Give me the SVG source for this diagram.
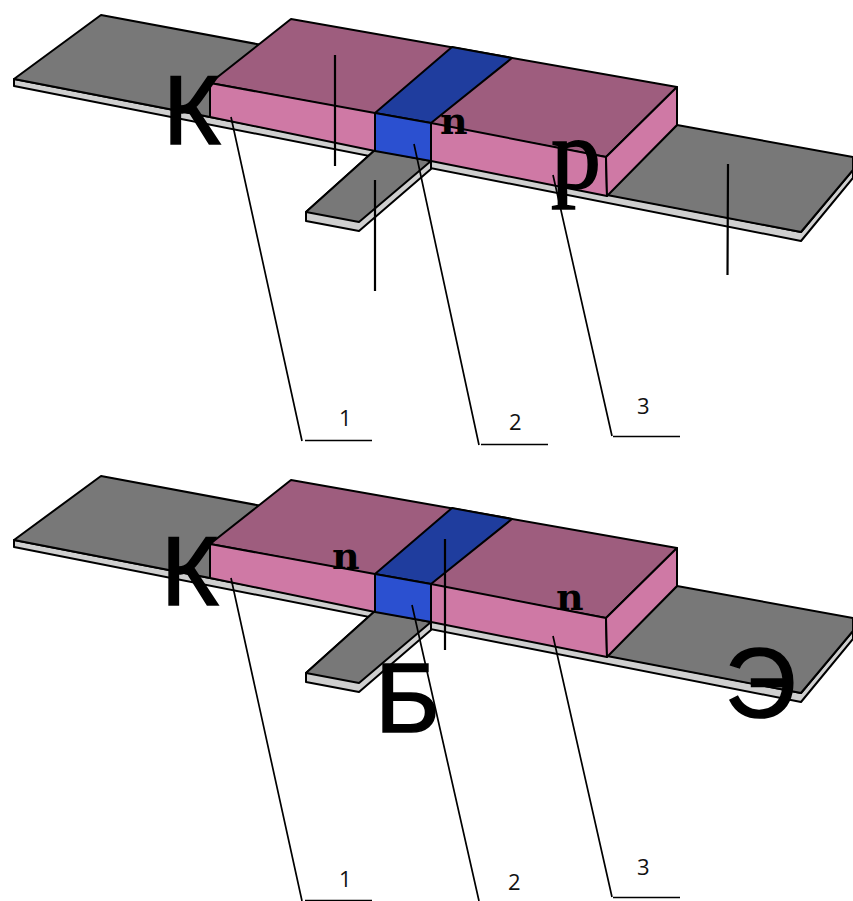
<svg xmlns="http://www.w3.org/2000/svg" width="853" height="901" viewBox="0 0 853 901">
<style>
.e{stroke:#000;stroke-width:2;stroke-linejoin:round}
.g{fill:#787878}.s{fill:#cfcfcf}.t{fill:#9e5d7e}.f{fill:#cf79a5}.bt{fill:#1f3d9e}.bf{fill:#2b50d0}
.l{stroke:#000;stroke-width:1.7;fill:none}
.v{stroke:#000;stroke-width:2.2;fill:none}
.big{font-family:"Liberation Sans",Arial,sans-serif;font-size:99px;fill:#000;stroke:#000;stroke-width:1.6}
.ser{font-family:"DejaVu Serif",serif;font-weight:bold;font-size:38px;fill:#000}
.pp{font-family:"Liberation Serif",serif;font-size:100px;fill:#000;stroke:#000;stroke-width:1.6}
.num{font-family:"Open Sans",sans-serif;font-size:22px;fill:#111}
</style>
<defs>
<g id="device">
<polygon class="s e" points="14,79 14,86 801,241 853,178 853,170 801,232"/>
<polygon class="g e" points="14,79 101,15 262,45 210,117"/>
<polygon class="g e" points="677,125 853,157 853,170 801,232 607,195"/>
<polygon class="s e" points="306,212 306,221 359,231 431,169 431,160 375,150"/>
<polygon class="g e" points="375,150 306,212 359,222 431,161"/>
<polygon class="t e" points="210,83 291,19 677,87 606,157"/>
<polygon class="bt e" points="375,113 452,47 512,58 431,123"/>
<polygon class="f e" points="210,83 375,113 375,151 210,117"/>
<polygon class="f e" points="431,123 606,157 607,196 431,161"/>
<polygon class="f e" points="606,157 677,87 677,125 607,196"/>
<polygon class="bf e" points="375,113 431,123 431,161 375,151"/>
</g>
</defs>
<g id="transistor-pnp">
<use href="#device"/>
</g>
<g id="transistor-npn">
<use href="#device" y="461"/>
</g>
<g id="connectors">
<path class="v" d="M335 55V166M375 180V291M728 164L727.500 275M445 539V650"/>
<path class="l" d="M231 117L302 441M305 440.500H372M414 144L479 445M481 444.500H548M553 175L612 436M613 436.500H680"/>
<path class="l" d="M231 578L302 901M305 900.500H372M412 605L479 901M553 636L612 897M613 897.500H680"/>
</g>
<g id="labels-top">
<text class="big" x="163" y="144">К</text>
<text class="ser" x="440" y="134">n</text>
<text class="pp" x="551" y="188">p</text>
<text class="num" x="339" y="426">1</text>
<text class="num" x="509" y="430">2</text>
<text class="num" x="637" y="414">3</text>
</g>
<g id="labels-bottom">
<text class="big" x="161" y="605">К</text>
<text class="big" x="375" y="732">Б</text>
<text class="big" x="725" y="717">Э</text>
<text class="ser" x="332" y="569">n</text>
<text class="ser" x="556" y="610">n</text>
<text class="num" x="339" y="887">1</text>
<text class="num" x="508" y="890">2</text>
<text class="num" x="637" y="875">3</text>
</g>
</svg>
